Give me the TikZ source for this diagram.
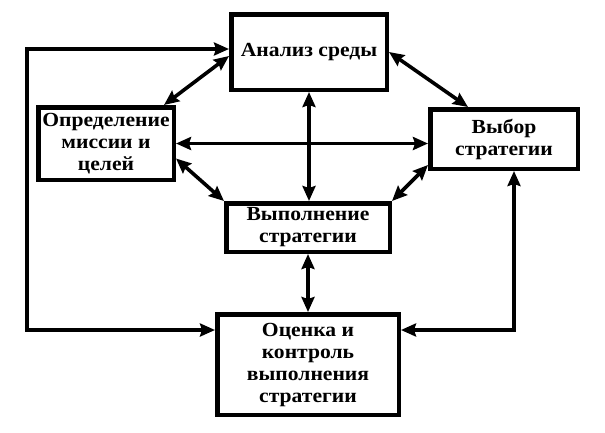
\documentclass[tikz,border=0pt]{standalone}
\usepackage{fontspec}
\setmainfont{Liberation Serif}[FakeStretch=1.08]
\usetikzlibrary{arrows.meta,calc}
\begin{document}
\begin{tikzpicture}[x=1pt,y=-1pt,
  box/.style={draw=black,line width=4.5pt,fill=white,inner sep=0pt,align=center,
    font=\bfseries\fontsize{20}{22}\selectfont},
  link/.style={line width=3.6pt,{Stealth[length=15pt,width=13pt,inset=2pt]}-{Stealth[length=15pt,width=13pt,inset=2pt]}}]
\useasboundingbox (0,0) rectangle (605,432);
\node[box,minimum width=155.5pt,minimum height=75.5pt] (A) at (309,52) {Анализ среды};
\node[box,minimum width=135.5pt,minimum height=72.5pt] (O) at (106,143.5) {Определение\\миссии и\\целей};
\node[box,minimum width=147.5pt,minimum height=59.5pt] (V) at (504,139) {Выбор\\стратегии};
\node[box,minimum width=163.5pt,minimum height=48.5pt] (E) at (308,227.5) {Выполнение\\стратегии};
\node[box,minimum width=181.5pt,minimum height=100.5pt] (K) at (308,364.5) {Оценка и\\контроль\\выполнения\\стратегии};
\coordinate (L) at (27,330);
\coordinate (R) at (514,330);
\draw[link] ($(O.north east)+(-12,0)$) -- ($(A.west)+(0,4)$);
\draw[link] (A.east) -- ($(V.north west)+(40,0)$);
\draw[link] (O.east) -- (O.east -| V.west);
\draw[link] (A.south) -- (A.south |- E.north);
\draw[link] ($(O.east)+(0,15)$) -- (E.north west);
\draw[link] ($(V.south west)+(0,-6)$) -- (E.north east);
\draw[link] (E.south) -- (E.south |- K.north);
\draw[link,line cap=rect] ($(A.west)+(0,-3)$) -| (L) -- (L -| K.west);
\draw[link,line cap=rect] (R |- V.south) -- (R) -- (R -| K.east);
\end{tikzpicture}
\end{document}
